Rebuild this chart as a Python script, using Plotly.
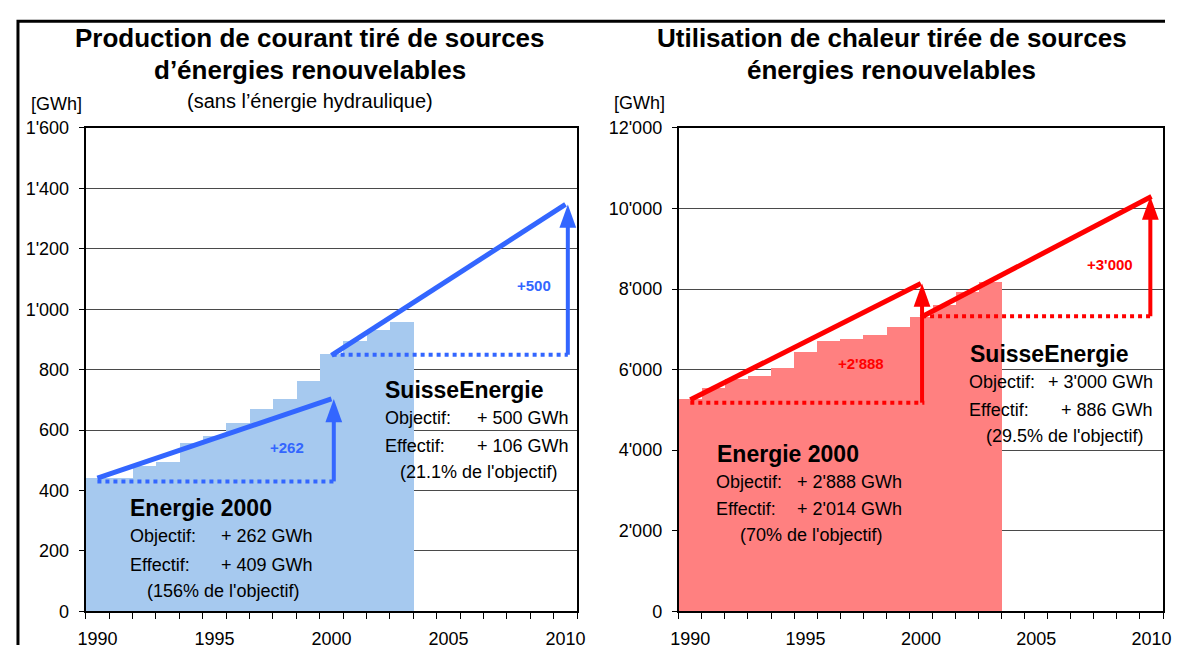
import plotly.graph_objects as go

# The page body keeps its default 8px margin, so the figure is sized to fit
# inside the 1181x663 window and reference pixel positions are shifted by 8px.
VIEW_W, VIEW_H = 1181, 663
OFF = 8
W, H = VIEW_W - 2 * OFF, VIEW_H - 2 * OFF
FONT = "Liberation Sans, Arial, sans-serif"

# ---------------- data ----------------
years = list(range(1990, 2004))
elec_values = [441, 441, 480, 494, 556, 581, 623, 671, 704, 764, 851, 896, 932, 957]
heat_values = [5276, 5546, 5769, 5841, 6048, 6440, 6716, 6762, 6860, 7065, 7298, 7611, 7933, 8183]

x_tick_vals = [1990, 1995, 2000, 2005, 2010]
x_tick_text = ["1990", "1995", "2000", "2005", "2010"]
elec_tick_vals = [0, 200, 400, 600, 800, 1000, 1200, 1400, 1600]
elec_tick_text = ["0", "200", "400", "600", "800", "1'000", "1'200", "1'400", "1'600"]
heat_tick_vals = [0, 2000, 4000, 6000, 8000, 10000, 12000]
heat_tick_text = ["0", "2'000", "4'000", "6'000", "8'000", "10'000", "12'000"]

# objective lines (Energie 2000: 1990->2000, SuisseEnergie: 2000->2010)
e2000_years = [1990, 2000]
se_years = [2000, 2010]
elec_e2000_line = [441, 703]
elec_se_line = [847, 1347]
heat_e2000_line = [5250, 8138]
heat_se_line = [7300, 10300]
# dotted reference levels
elec_e2000_base = 430
elec_se_base = 849
heat_e2000_base = 5180
heat_se_base = 7325

BLUE = "#3366ff"
RED = "#ff0000"
BAR_BLUE = "#a6c9ef"
BAR_RED = "#ff8080"


def PX(x):
    return (x - OFF) / W


def PY(y):
    return 1 - (y - OFF) / H


def P(x, y):
    return PX(x), PY(y)


# ---------------- layout geometry (reference pixels) ----------------
dom_y = [PY(620.2), PY(121.5)]
dom_x1 = [PX(78.7), PX(577.0)]
dom_x2 = [PX(680.0), PX(1171.0)]
x_range = [1989.5, 2010.5]

fig = go.Figure()


def add_panel(xref, yref, dom_x, y_max, values, color, bar_color, l1, l2, b1, b2, ax1, ax2):
    fig.add_trace(go.Bar(x=years, y=values, width=1, marker=dict(color=bar_color, line=dict(width=0)),
                         xaxis=xref, yaxis=yref, showlegend=False))
    # dotted baselines
    fig.add_trace(go.Scatter(x=[e2000_years[0], ax1 + 0.1], y=[b1, b1], mode="lines",
                             line=dict(color=color, width=4, dash="dot"), xaxis=xref, yaxis=yref, showlegend=False))
    fig.add_trace(go.Scatter(x=[se_years[0] + 0.05, ax2], y=[b2, b2], mode="lines",
                             line=dict(color=color, width=4, dash="dot"), xaxis=xref, yaxis=yref, showlegend=False))
    # objective lines
    fig.add_trace(go.Scatter(x=e2000_years, y=l1, mode="lines", line=dict(color=color, width=5),
                             xaxis=xref, yaxis=yref, showlegend=False))
    fig.add_trace(go.Scatter(x=se_years, y=l2, mode="lines", line=dict(color=color, width=5),
                             xaxis=xref, yaxis=yref, showlegend=False))
    # arrows
    wpx = (dom_x[1] - dom_x[0]) * W
    hpx = (dom_y[1] - dom_y[0]) * H
    xu = (x_range[1] - x_range[0]) / wpx
    yu = y_max / hpx
    hw, hl = 8.5 * xu, 24 * yu
    for ax, base, tip in [(ax1, b1, l1[1]), (ax2, b2, l2[1])]:
        fig.add_trace(go.Scatter(x=[ax, ax], y=[base, tip - hl + 2 * yu], mode="lines",
                                 line=dict(color=color, width=4), xaxis=xref, yaxis=yref, showlegend=False))
        fig.add_trace(go.Scatter(x=[ax - hw, ax + hw, ax, ax - hw], y=[tip - hl, tip - hl, tip, tip - hl],
                                 mode="lines", fill="toself", fillcolor=color, line=dict(color=color, width=0),
                                 xaxis=xref, yaxis=yref, showlegend=False))


add_panel("x", "y", dom_x1, 1600, elec_values, BLUE, BAR_BLUE,
          elec_e2000_line, elec_se_line, elec_e2000_base, elec_se_base, 2000.1, 2010.1)
add_panel("x2", "y2", dom_x2, 12000, heat_values, RED, BAR_RED,
          heat_e2000_line, heat_se_line, heat_e2000_base, heat_se_base, 2000.05, 2009.95)

minor = dict(tickvals=[y - 0.5 for y in range(1990, 2012)], ticks="outside", ticklen=6,
             tickwidth=1, tickcolor="black", showgrid=False)
xcommon = dict(range=x_range, tickvals=x_tick_vals, ticktext=x_tick_text, ticks="", showgrid=False,
               zeroline=False, showline=True, mirror=True, linecolor="black", linewidth=2,
               tickfont=dict(size=18, color="black", family=FONT), minor=minor,
               ticklabelstandoff=10, fixedrange=True)
ycommon = dict(showgrid=True, gridcolor="#4a4a4a", gridwidth=1, zeroline=False, showline=True,
               mirror=True, linecolor="black", linewidth=2, ticks="outside", ticklen=5,
               tickcolor="black", tickwidth=1, tickfont=dict(size=18, color="black", family=FONT),
               ticklabelstandoff=6, fixedrange=True)

ann = []


def text(x, y, s, size=18, bold=False, color="black", anchor="left"):
    px, py = P(x, y)
    ann.append(dict(x=px, y=py, xref="paper", yref="paper", text=("<b>%s</b>" % s) if bold else s,
                    showarrow=False, xanchor=anchor, yanchor="middle",
                    font=dict(size=size, color=color, family=FONT)))


# titles
text(306, 29, "Production de courant tiré de sources", 26, True, anchor="center")
text(306, 62, "d’énergies renouvelables", 26, True, anchor="center")
text(306, 94, "(sans l’énergie hydraulique)", 20, anchor="center")
text(896, 29, "Utilisation de chaleur tirée de sources", 26, True, anchor="center")
text(896, 62, "énergies renouvelables", 26, True, anchor="center")
text(21, 97, "[GWh]", 18)
text(612, 96, "[GWh]", 18)

# left blocks
text(122, 514, "Energie 2000", 23, True)
text(122, 543, "Objectif:")
text(214, 543, "+ 262 GWh")
text(122, 572, "Effectif:")
text(214, 572, "+ 409 GWh")
text(139, 599, "(156% de l'objectif)")
text(380, 392, "SuisseEnergie", 23, True)
text(380, 421, "Objectif:")
text(473, 421, "+ 500 GWh")
text(380, 450, "Effectif:")
text(473, 450, "+ 106 GWh")
text(395, 476, "(21.1% de l'objectif)")

# right blocks
text(717, 458, "Energie 2000", 23, True)
text(716, 487, "Objectif:")
text(798, 487, "+ 2'888 GWh")
text(716, 515, "Effectif:")
text(798, 515, "+ 2'014 GWh")
text(740, 542, "(70% de l'objectif)")
text(973, 355, "SuisseEnergie", 23, True)
text(972, 384, "Objectif:")
text(1163, 384, "+ 3'000 GWh", anchor="right")
text(972, 413, "Effectif:")
text(1163, 413, "+ 886 GWh", anchor="right")
text(989, 439, "(29.5% de l'objectif)")

# delta labels (data coords)
ann.append(dict(x=1998.1, y=542, xref="x", yref="y", text="<b>+262</b>", showarrow=False,
                font=dict(size=15, color=BLUE, family=FONT)))
ann.append(dict(x=2008.65, y=1079, xref="x", yref="y", text="<b>+500</b>", showarrow=False,
                font=dict(size=15, color=BLUE, family=FONT)))
ann.append(dict(x=1997.4, y=6163, xref="x2", yref="y2", text="<b>+2'888</b>", showarrow=False,
                font=dict(size=15, color=RED, family=FONT)))
ann.append(dict(x=2008.2, y=8615, xref="x2", yref="y2", text="<b>+3'000</b>", showarrow=False,
                font=dict(size=15, color=RED, family=FONT)))

# outer frame (left and top edges of the original picture), kept inside the figure
shapes = [dict(type="path", xref="paper", yref="paper",
               path="M %f,%f L %f,%f L %f,%f" % (PX(10), 0.0, PX(10), PY(11.3), 1.0, PY(11.3)),
               line=dict(color="black", width=3))]

fig.update_layout(
    width=W, height=H, autosize=False,
    margin=dict(l=0, r=0, t=0, b=0),
    paper_bgcolor="white", plot_bgcolor="white",
    bargap=0, barmode="overlay",
    showlegend=False,
    font=dict(family=FONT, color="black"),
    xaxis=dict(domain=dom_x1, anchor="y", **xcommon),
    yaxis=dict(domain=dom_y, anchor="x", range=[0, 1600], tickvals=elec_tick_vals,
               ticktext=elec_tick_text, **ycommon),
    xaxis2=dict(domain=dom_x2, anchor="y2", **xcommon),
    yaxis2=dict(domain=dom_y, anchor="x2", range=[0, 12000], tickvals=heat_tick_vals,
                ticktext=heat_tick_text, **ycommon),
    annotations=ann,
    shapes=shapes,
)

fig.write_html("out.html", config={"displayModeBar": False})
